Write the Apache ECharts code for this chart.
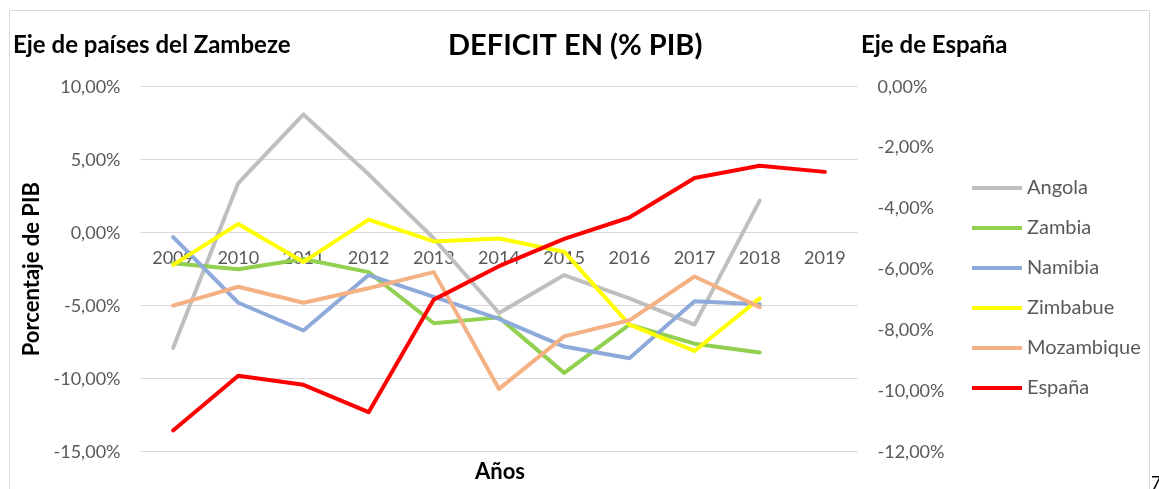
<!DOCTYPE HTML>
<html lang="es">

<head>
	<meta charset="utf-8">
	<title>Deficit en (% PIB)</title>
	<style>
		html, body {
			margin: 0;
			padding: 0;
			background: #fff;
		}
		#main {
			width: 1159px;
			height: 489px;
		}
	</style>
</head>

<body>
	<div id="main"></div>

	<script src="https://cdn.jsdelivr.net/npm/echarts@6/dist/echarts.min.js"></script>

	<script>
		// datos en % del PIB
		var years = ['2009', '2010', '2011', '2012', '2013', '2014', '2015', '2016', '2017', '2018', '2019'];
		var angola = [-7.9, 3.4, 8.1, 4.0, -0.4, -5.5, -2.9, -4.5, -6.3, 2.2, null];
		var zambia = [-2.1, -2.5, -1.8, -2.7, -6.2, -5.8, -9.6, -6.3, -7.6, -8.2, null];
		var namibia = [-0.3, -4.8, -6.7, -2.9, -4.4, -5.9, -7.8, -8.6, -4.7, -4.9, null];
		var zimbabue = [-2.2, 0.6, -2.0, 0.9, -0.6, -0.4, -1.3, -6.3, -8.1, -4.5, null];
		var mozambique = [-5.0, -3.7, -4.8, -3.8, -2.7, -10.7, -7.1, -6.0, -3.0, -5.1, null];
		var espana = [-11.3, -9.5, -9.8, -10.7, -7.0, -5.9, -5.0, -4.3, -3.0, -2.6, -2.8];

		var names = ['Angola', 'Zambia', 'Namibia', 'Zimbabue', 'Mozambique', 'España'];
		var colors = ['#bfbfbf', '#92d050', '#8eaadb', '#ffff00', '#f4b183', '#ff0000'];
		var values = [angola, zambia, namibia, zimbabue, mozambique, espana];

		var font = 'Lato, "Open Sans", sans-serif';

		function pct(v) {
			return v.toFixed(2).replace('.', ',') + '%';
		}

		var series = names.map(function (n, i) {
			return {
				name: n,
				type: 'line',
				yAxisIndex: n === 'España' ? 1 : 0,
				data: values[i],
				symbol: 'none',
				connectNulls: false,
				lineStyle: { width: 4, color: colors[i], cap: 'round', join: 'round' },
				itemStyle: { color: colors[i] }
			};
		});

		var chart = echarts.init(document.getElementById('main'));
		chart.setOption({
			animation: false,
			textStyle: { fontFamily: font },
			title: [
				{
					text: 'DEFICIT EN (% PIB)',
					left: 443, top: 26,
					textStyle: { fontFamily: font, fontSize: 29, fontWeight: 'bold', color: '#000', lineHeight: 29 }
				},
				{
					text: 'Eje de países del Zambeze',
					left: 8, top: 28,
					textStyle: { fontFamily: font, fontSize: 24, fontWeight: 'bold', color: '#000', lineHeight: 24 }
				},
				{
					text: 'Eje de España',
					left: 856, top: 28,
					textStyle: { fontFamily: font, fontSize: 24, fontWeight: 'bold', color: '#000', lineHeight: 24 }
				}
			],
			graphic: [
				{
					type: 'rect',
					silent: true,
					shape: { x: 9.5, y: 10.5, width: 1140, height: 500 },
					style: { fill: 'none', stroke: '#d9d9d9', lineWidth: 1 }
				},
				{
					type: 'text',
					silent: true,
					x: 500, y: 472,
					style: {
						text: 'Años', fontFamily: font, fontSize: 22, fontWeight: 'bold', fill: '#000',
						align: 'center', verticalAlign: 'middle'
					}
				},
				{
					type: 'text',
					left: 1151, top: 474,
					style: { text: '7', fontFamily: font, fontSize: 18, fill: '#000' }
				}
			],
			legend: {
				orient: 'vertical',
				left: 972,
				top: 178,
				padding: 0,
				icon: 'rect',
				itemWidth: 50,
				itemHeight: 4,
				itemGap: 20,
				data: names,
				textStyle: { fontFamily: font, fontSize: 20, lineHeight: 18, color: '#595959' }
			},
			grid: {
				left: 140.5,
				right: 301.5,
				top: 86.7,
				bottom: 37.3,
				containLabel: false
			},
			xAxis: {
				type: 'category',
				data: years,
				boundaryGap: true,
				position: 'bottom',
				offset: -218.4,
				axisLine: { show: false, onZero: false },
				axisTick: { show: false },
				axisLabel: { fontFamily: font, fontSize: 18, color: '#595959', margin: 16, interval: 0 },
				splitLine: { show: false }
			},
			yAxis: [
				{
					type: 'value',
					min: -15,
					max: 10,
					interval: 5,
					name: 'Porcentaje de PIB',
					nameLocation: 'middle',
					nameRotate: 90,
					nameGap: 98,
					nameTextStyle: { fontFamily: font, fontSize: 22, fontWeight: 'bold', color: '#000' },
					axisLine: { show: false },
					axisTick: { show: false },
					axisLabel: { fontFamily: font, fontSize: 18, color: '#595959', margin: 20, formatter: pct },
					splitLine: { show: true, lineStyle: { color: '#d9d9d9', width: 1 } }
				},
				{
					type: 'value',
					min: -12,
					max: 0,
					interval: 2,
					position: 'right',
					axisLine: { show: false },
					axisTick: { show: false },
					axisLabel: { fontFamily: font, fontSize: 18, color: '#595959', margin: 20, formatter: pct },
					splitLine: { show: false }
				}
			],
			series: series
		});
	</script>
</body>

</html>
